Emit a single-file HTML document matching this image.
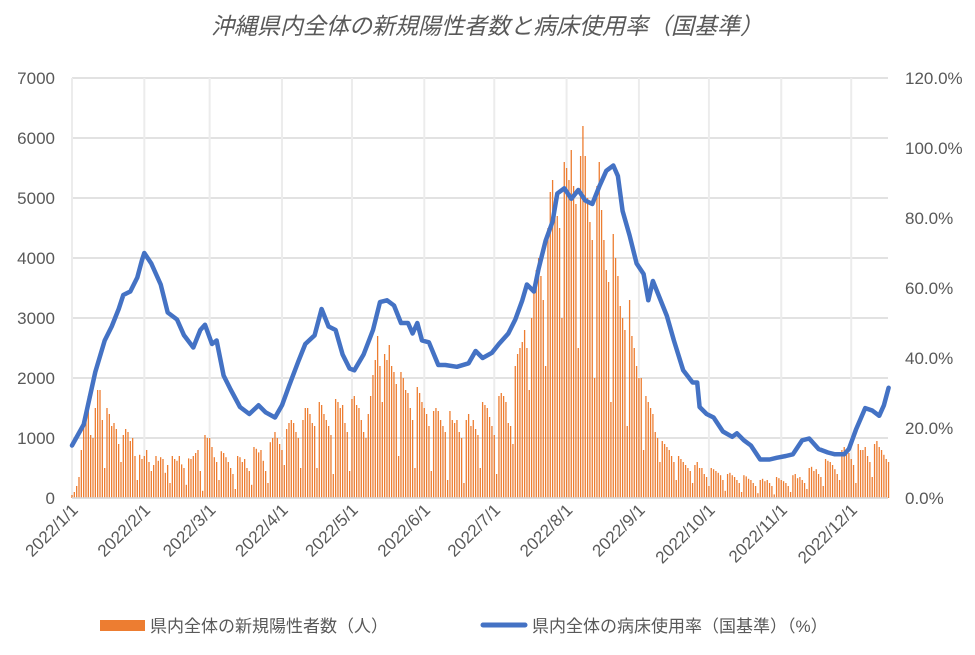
<!DOCTYPE html>
<html><head><meta charset="utf-8"><style>
body{margin:0;background:#fff;}
svg text{font-family:"Liberation Sans","Noto Sans CJK JP",sans-serif;fill:#595959;}
</style></head><body>
<svg id="c" width="975" height="650">
<text x="487" y="34" text-anchor="middle" font-size="23" font-style="italic">沖縄県内全体の新規陽性者数と病床使用率（国基準）</text>
<g id="grid"></g><g id="bars"></g><g id="line"></g><g id="axes"></g>
<g>
<rect x="100" y="620" width="45" height="11" fill="#ed7d31"></rect>
<text x="150" y="632" font-size="17">県内全体の新規陽性者数（人）</text>
<line x1="483" y1="625" x2="525" y2="625" stroke="#4472c4" stroke-width="5" stroke-linecap="round"></line>
<text x="532" y="632" font-size="17">県内全体の病床使用率（国基準）（%）</text>
</g>
</svg>
<script>
const leftTicks=[0,1000,2000,3000,4000,5000,6000,7000];
const rightTicks=[0,20,40,60,80,100,120];
const monthLabels=["2022/1/1","2022/2/1","2022/3/1","2022/4/1","2022/5/1","2022/6/1","2022/7/1","2022/8/1","2022/9/1","2022/10/1","2022/11/1","2022/12/1"];
const monthDays=[0,31,59,90,120,151,181,212,243,273,304,334];
const cases=[50,100,200,350,800,1200,1500,
1700,1050,1000,1500,1800,1800,1300,
500,1500,1400,1200,1250,1150,900,
600,1050,1150,1100,950,1000,700,
300,720,650,700,800,600,450,
550,700,620,680,650,420,550,
250,700,650,620,700,560,500,
220,660,650,700,750,800,450,
120,1050,1000,1000,850,680,600,
300,780,750,680,600,500,400,
150,700,680,600,650,500,450,
220,850,820,760,800,620,450,
250,930,1000,1100,1000,900,800,
550,1150,1250,1300,1250,1100,1000,
500,1300,1500,1500,1400,1250,1200,
500,1600,1550,1400,1300,1200,1050,
400,1650,1600,1500,1550,1250,1100,
450,1650,1700,1550,1500,1300,1100,
1000,1400,1700,2050,2300,2700,2200,
1600,2400,2300,2550,2200,2100,1900,
700,2100,2000,1800,1750,1500,1300,
500,1850,1750,1600,1500,1400,1200,
450,1450,1500,1450,1300,1200,1100,
300,1450,1300,1250,1300,1100,1000,
250,1300,1400,1200,1300,1150,1050,
500,1600,1550,1500,1350,1200,1050,
400,1700,1750,1700,1600,1250,1200,
900,2200,2400,2500,2600,2800,2500,
1800,3000,3500,3800,4000,3700,3300,
2200,4500,5100,5300,5000,4700,4500,
3000,5600,5500,5300,5800,5200,4900,
2500,5700,6200,5700,5000,4600,4300,
2000,5200,5600,4800,4300,3800,3600,
1600,4400,4000,3700,3200,3000,2800,
1200,3300,2700,2500,2200,2000,2000,
800,1700,1600,1500,1400,1100,1000,
600,950,900,850,800,700,600,
300,700,650,600,550,500,450,
250,550,600,500,500,400,350,
200,500,480,450,420,380,300,
120,400,420,380,350,300,250,
100,380,360,320,300,250,200,
80,300,320,280,300,250,200,
60,350,330,300,280,250,200,
100,380,400,330,350,300,250,
150,500,520,450,480,400,350,
200,650,620,600,550,480,400,
300,800,850,780,750,650,550,
250,900,800,800,850,700,600,
350,900,950,850,800,720,650,
600];
const bedDays=[0,5,10,14,17,20,22,25,28,30,31,34,38,41,45,48,52,55,57,60,62,65,68,72,76,80,83,87,90,93,97,100,104,107,110,113,116,119,121,125,129,132,135,138,141,144,146,148,150,153,157,160,165,170,173,176,180,183,187,190,193,195,198,200,203,206,208,211,214,217,220,223,226,229,232,234,236,239,242,245,247,249,252,255,258,262,266,268,269,272,275,279,283,285,288,291,295,299,302,306,309,313,316,320,324,327,331,333,336,340,343,346,348,350];
const bedRate=[15,21,36,45,49,54,58,59,63,68,70,67,61,53,51,46.5,43,48,49.5,44,45,35,31,26,24,26.5,24.5,23,26.5,32,39,44,46.5,54,49,48,41,37,36.5,41,48,56,56.5,55,50,50,47,50,45,44.5,38,38,37.5,38.5,42,40,41.5,44,47,51,56.5,61,59,65.5,73.5,79,87,88.5,85.5,88,85,84,89,93.5,95,92,82,75,67,64,56.5,62,57,52,45,36.5,33,33,26,24,23,19,17.5,18.5,16.5,15,11,11,11.5,12,12.5,16.5,17,14,13,12.5,12.5,14,19.5,25.7,25,23.5,26.5,31.5];

const X0=72,DX=2.333,Y0=498,PY=0.06,PR=3.5;
const xs=d=>X0+d*DX, yl=v=>Y0-v*PY, yr=v=>Y0-v*PR;
const NS="http://www.w3.org/2000/svg";
function mk(t,a,p){const e=document.createElementNS(NS,t);for(const k in a)e.setAttribute(k,a[k]);p.appendChild(e);return e;}
const grid=document.getElementById('grid'),axes=document.getElementById('axes'),bars=document.getElementById('bars'),line=document.getElementById('line');
leftTicks.forEach(v=>{
 const g=mk('line',{x1:72,x2:888,y1:yl(v),y2:yl(v),stroke:'#d9d9d9','stroke-width':1.5},grid);
 
 
 const t=mk('text',{x:55,y:yl(v)+6,'text-anchor':'end','font-size':17},axes);
 t.textContent=v;
 
 
});
rightTicks.forEach(v=>{
 const t=mk('text',{x:905,y:yr(v)+6,'font-size':17},axes);
 t.textContent=v.toFixed(1)+'%';
 
 
});
monthDays.forEach((d,i)=>{
 const g=mk('line',{x1:xs(d),x2:xs(d),y1:78,y2:498,stroke:'#ececec','stroke-width':2},grid);
 
 
 const x=xs(d)+7,y=511;
 const t=mk('text',{x:x,y:y,'text-anchor':'end','font-size':17,transform:'rotate(-45 '+x+' '+y+')'},axes);
 t.textContent=monthLabels[i];
 
 
});
cases.forEach((v,d)=>{
 const r=mk('rect',{x:xs(d)-0.65,y:yl(v),width:1.3,height:v*PY,fill:'#ed7d31'},bars);
 
 
});
const pts=bedDays.map((d,i)=>xs(d).toFixed(1)+','+yr(bedRate[i]).toFixed(1)).join(' ');
const pl=mk('polyline',{points:pts,fill:'none',stroke:'#4472c4','stroke-width':4.5,'stroke-linejoin':'round','stroke-linecap':'round'},line);


const ax=mk('line',{x1:72,x2:888,y1:498,y2:498,stroke:'#d9d9d9','stroke-width':1.5},axes);


</script>
</body></html>
